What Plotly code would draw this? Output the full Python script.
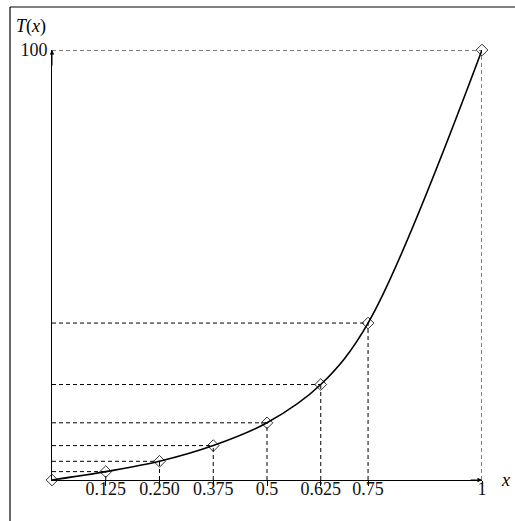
import plotly.graph_objects as go

# data
x_vals = [0, 0.125, 0.25, 0.375, 0.5, 0.625, 0.735, 1]
t_vals = [0, 1.95, 4.35, 8.0, 13.3, 22.2, 36.5, 100]
x_tick_vals = [0.125, 0.25, 0.375, 0.5, 0.625, 0.735, 1]
x_tick_text = ["0.125", "0.250", "0.375", "0.5", "0.625", "0.75", "1"]
y_tick_vals = [100]
y_tick_text = ["100"]

FONT = "Liberation Serif"
W, H = 515, 521
L, R, T, B = 52, 33, 50, 41
PW, PH = W - L - R, H - T - B

def px_x(p):
    return (p - L) / PW

def px_y(p):
    return (H - B - p) / PH

fig = go.Figure()

# dashed guide lines
dash = dict(color="black", width=1, dash="4px,3px")
for xv, tv in zip(x_vals[1:], t_vals[1:]):
    fig.add_trace(go.Scatter(x=[0, xv], y=[tv, tv], mode="lines", line=dash,
                             hoverinfo="skip", showlegend=False))
    fig.add_trace(go.Scatter(x=[xv, xv], y=[0, tv], mode="lines", line=dash,
                             hoverinfo="skip", showlegend=False))

# curve
fig.add_trace(go.Scatter(x=x_vals, y=t_vals, mode="lines",
                         line=dict(color="black", width=1.6, shape="spline", smoothing=1.0),
                         showlegend=False, cliponaxis=False))
# markers
fig.add_trace(go.Scatter(x=x_vals, y=t_vals, mode="markers",
                         marker=dict(symbol="diamond-open", size=9, color="black",
                                     line=dict(width=0.8, color="black")),
                         showlegend=False, cliponaxis=False))

fig.update_layout(
    width=W, height=H,
    margin=dict(l=L, r=R, t=T, b=B),
    paper_bgcolor="white", plot_bgcolor="white",
    font=dict(family=FONT, size=18, color="black"),
    xaxis=dict(range=[0, 1], showgrid=False, zeroline=False, showline=True,
               linecolor="black", linewidth=1, tickvals=x_tick_vals, ticktext=x_tick_text,
               ticks="outside", ticklen=5, tickwidth=0.8, tickcolor="black",
               ticklabelstandoff=-13,
               tickfont=dict(family=FONT, size=18, color="#111")),
    yaxis=dict(range=[0, 100], showgrid=False, zeroline=False, showline=True,
               linecolor="black", linewidth=1, tickvals=y_tick_vals, ticktext=y_tick_text,
               ticks="", tickfont=dict(family=FONT, size=18, color="#111")),
    annotations=[
        dict(x=1, y=0, ax=0.97, ay=0, xref="x", yref="y", axref="x", ayref="y",
             text="", showarrow=True, arrowhead=2, arrowsize=0.9, arrowwidth=1,
             arrowcolor="black", standoff=0),
        dict(x=0, y=100, ax=0, ay=96, xref="x", yref="y", axref="x", ayref="y",
             text="", showarrow=True, arrowhead=2, arrowsize=0.9, arrowwidth=1,
             arrowcolor="black", standoff=0),
        dict(x=px_x(31), y=px_y(27), xref="paper", yref="paper", text="<i>T</i>(<i>x</i>)",
             xanchor="center", yanchor="middle",
             showarrow=False, font=dict(family=FONT, size=18, color="black")),
        dict(x=px_x(505), y=px_y(480), xref="paper", yref="paper", text="<i>x</i>",
             xanchor="center", yanchor="middle",
             showarrow=False, font=dict(family=FONT, size=18, color="black")),
    ],
    shapes=[
        dict(type="line", xref="paper", yref="paper", x0=px_x(10), x1=px_x(516),
             y0=px_y(7), y1=px_y(7), line=dict(color="black", width=1.2)),
        dict(type="line", xref="paper", yref="paper", x0=px_x(10), x1=px_x(10),
             y0=px_y(7), y1=px_y(522), line=dict(color="black", width=1.2)),
    ],
)

fig.write_html("out.html", config={"displayModeBar": False, "responsive": False},
               default_width="515px", default_height="521px",
               post_script=("document.documentElement.style.overflow='hidden';"
                            "document.documentElement.style.background='white';"
                            "document.body.style.margin='0px';"
                            "document.body.style.background='white';"
                            "document.body.style.overflow='hidden';"))
